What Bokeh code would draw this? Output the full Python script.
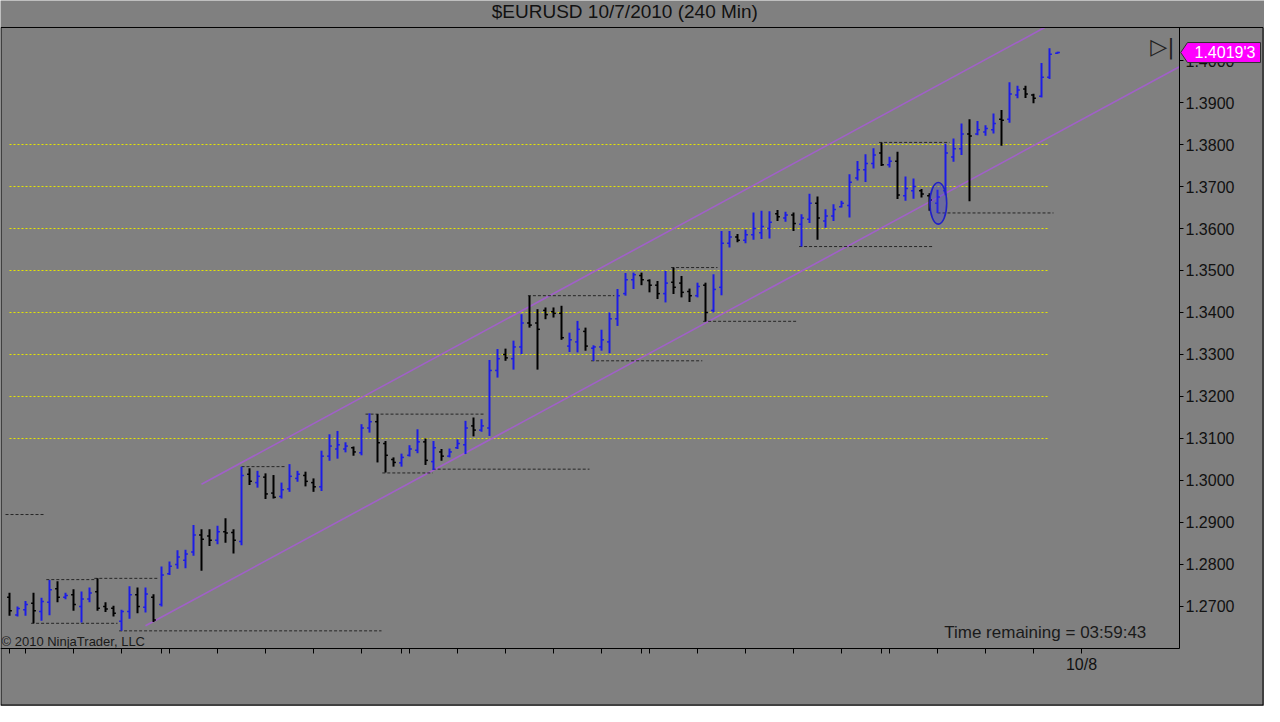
from bokeh.plotting import figure
from bokeh.models import (FixedTicker, PrintfTickFormatter, Label, Range1d, ColumnDataSource,
                          LinearAxis, BoxAnnotation)
from bokeh.core.properties import value
from bokeh.embed import file_html
from bokeh.resources import INLINE

# ---------------- data (240-minute bars) ----------------
highs = [1.2733, 1.2700, 1.2713, 1.2733, 1.2721, 1.2763, 1.2760, 1.2733, 1.2741, 1.2736,
         1.2745, 1.2767, 1.2710, 1.2702, 1.2692, 1.2748, 1.2745, 1.2745, 1.2729, 1.2795,
         1.2807, 1.2834, 1.2835, 1.2894, 1.2884, 1.2884, 1.2892, 1.2910, 1.2884, 1.3033,
         1.3029, 1.3023, 1.3017, 1.3013, 1.2995, 1.3039, 1.3023, 1.3021, 1.3005, 1.3071,
         1.3110, 1.3118, 1.3091, 1.3081, 1.3134, 1.3160, 1.3158, 1.3094, 1.3055, 1.3064,
         1.3084, 1.3122, 1.3100, 1.3094, 1.3075, 1.3076, 1.3098, 1.3142, 1.3150, 1.3146,
         1.3287, 1.3313, 1.3314, 1.3333, 1.3396, 1.3440, 1.3408, 1.3412, 1.3412, 1.3416,
         1.3352, 1.3380, 1.3364, 1.3322, 1.3359, 1.3400, 1.3456, 1.3494, 1.3495, 1.3495,
         1.3479, 1.3475, 1.3499, 1.3507, 1.3487, 1.3457, 1.3471, 1.3471, 1.3491, 1.3594,
         1.3594, 1.3587, 1.3597, 1.3638, 1.3642, 1.3641, 1.3644, 1.3640, 1.3638, 1.3634,
         1.3683, 1.3676, 1.3646, 1.3658, 1.3666, 1.3729, 1.3761, 1.3777, 1.3791, 1.3805,
         1.3771, 1.3783, 1.3724, 1.3719, 1.3694, 1.3684, 1.3692, 1.3802, 1.3814, 1.3850,
         1.3860, 1.3856, 1.3846, 1.3874, 1.3882, 1.3948, 1.3940, 1.3940, 1.3921, 1.3994,
         1.4029, 1.4021]
lows = [1.2678, 1.2676, 1.2678, 1.2660, 1.2666, 1.2679, 1.2710, 1.2717, 1.2690, 1.2662,
        1.2710, 1.2690, 1.2687, 1.2676, 1.2642, 1.2671, 1.2684, 1.2686, 1.2663, 1.2700,
        1.2775, 1.2790, 1.2791, 1.2821, 1.2785, 1.2844, 1.2848, 1.2852, 1.2826, 1.2846,
        1.2989, 1.2983, 1.2956, 1.2957, 1.2957, 1.2973, 1.2997, 1.2986, 1.2973, 1.2975,
        1.3047, 1.3052, 1.3067, 1.3059, 1.3060, 1.3114, 1.3043, 1.3019, 1.3033, 1.3033,
        1.3057, 1.3065, 1.3037, 1.3025, 1.3047, 1.3055, 1.3075, 1.3063, 1.3105, 1.3116,
        1.3106, 1.3245, 1.3285, 1.3264, 1.3301, 1.3364, 1.3264, 1.3384, 1.3388, 1.3335,
        1.3306, 1.3305, 1.3309, 1.3285, 1.3309, 1.3303, 1.3368, 1.3440, 1.3456, 1.3465,
        1.3448, 1.3432, 1.3424, 1.3444, 1.3436, 1.3425, 1.3436, 1.3379, 1.3400, 1.3441,
        1.3555, 1.3567, 1.3565, 1.3573, 1.3575, 1.3576, 1.3618, 1.3616, 1.3594, 1.3557,
        1.3613, 1.3573, 1.3602, 1.3618, 1.3650, 1.3626, 1.3714, 1.3711, 1.3743, 1.3749,
        1.3745, 1.3670, 1.3666, 1.3671, 1.3674, 1.3642, 1.3637, 1.3679, 1.3759, 1.3775,
        1.3665, 1.3822, 1.3821, 1.3826, 1.3797, 1.3852, 1.3910, 1.3911, 1.3898, 1.3912,
        1.3956, 1.4016]
opens = [1.2722, 1.2680, 1.2692, 1.2708, 1.2688, 1.2710, 1.2742, 1.2722, 1.2728, 1.2700,
         1.2718, 1.2735, 1.2700, 1.2696, 1.2665, 1.2688, 1.2728, 1.2698, 1.2722, 1.2705,
         1.2778, 1.2800, 1.2810, 1.2830, 1.2870, 1.2868, 1.2858, 1.2878, 1.2876, 1.2855,
         1.3015, 1.2995, 1.3008, 1.2970, 1.2962, 1.2980, 1.3005, 1.3012, 1.2995, 1.2985,
         1.3058, 1.3075, 1.3075, 1.3078, 1.3066, 1.3125, 1.3140, 1.3088, 1.3050, 1.3042,
         1.3060, 1.3072, 1.3092, 1.3045, 1.3068, 1.3058, 1.3078, 1.3085, 1.3130, 1.3120,
         1.3125, 1.3262, 1.3300, 1.3290, 1.3318, 1.3375, 1.3375, 1.3405, 1.3402, 1.3398,
         1.3320, 1.3330, 1.3355, 1.3315, 1.3318, 1.3330, 1.3385, 1.3445, 1.3478, 1.3488,
         1.3476, 1.3465, 1.3445, 1.3472, 1.3470, 1.3450, 1.3440, 1.3465, 1.3405, 1.3460,
         1.3565, 1.3580, 1.3572, 1.3585, 1.3590, 1.3600, 1.3635, 1.3625, 1.3632, 1.3610,
         1.3622, 1.3660, 1.3618, 1.3630, 1.3652, 1.3655, 1.3720, 1.3740, 1.3755, 1.3780,
         1.3752, 1.3760, 1.3678, 1.3690, 1.3690, 1.3678, 1.3660, 1.3690, 1.3770, 1.3790,
         1.3825, 1.3825, 1.3830, 1.3835, 1.3860, 1.3860, 1.3918, 1.3932, 1.3918, 1.3915,
         1.3960, 1.4017]
closes = [1.2690, 1.2695, 1.2705, 1.2690, 1.2712, 1.2740, 1.2722, 1.2726, 1.2705, 1.2718,
          1.2732, 1.2696, 1.2694, 1.2684, 1.2688, 1.2728, 1.2700, 1.2730, 1.2668, 1.2775,
          1.2796, 1.2818, 1.2825, 1.2870, 1.2860, 1.2858, 1.2878, 1.2875, 1.2858, 1.3012,
          1.2998, 1.3010, 1.2968, 1.2960, 1.2978, 1.3010, 1.3015, 1.2998, 1.2985, 1.3058,
          1.3082, 1.3085, 1.3082, 1.3068, 1.3125, 1.3140, 1.3090, 1.3060, 1.3043, 1.3055,
          1.3075, 1.3092, 1.3048, 1.3078, 1.3058, 1.3068, 1.3088, 1.3125, 1.3120, 1.3130,
          1.3262, 1.3290, 1.3292, 1.3318, 1.3375, 1.3370, 1.3360, 1.3395, 1.3398, 1.3340,
          1.3335, 1.3360, 1.3320, 1.3318, 1.3335, 1.3385, 1.3440, 1.3478, 1.3490, 1.3478,
          1.3465, 1.3445, 1.3470, 1.3460, 1.3448, 1.3440, 1.3462, 1.3400, 1.3455, 1.3565,
          1.3580, 1.3572, 1.3585, 1.3600, 1.3605, 1.3615, 1.3628, 1.3632, 1.3612, 1.3625,
          1.3660, 1.3625, 1.3630, 1.3645, 1.3660, 1.3710, 1.3740, 1.3755, 1.3775, 1.3752,
          1.3760, 1.3680, 1.3695, 1.3700, 1.3682, 1.3668, 1.3675, 1.3780, 1.3790, 1.3825,
          1.3820, 1.3835, 1.3838, 1.3850, 1.3858, 1.3920, 1.3930, 1.3920, 1.3910, 1.3960,
          1.4015, 1.4019]

# swing high/low dashed lines (price, first bar, last bar)
swing_price = [1.2919, 1.2764, 1.2767, 1.2660, 1.2642, 1.3033, 1.3158, 1.3018,
               1.3027, 1.3440, 1.3285, 1.3507, 1.3379, 1.3557, 1.3805, 1.3637]
swing_start = [-0.5, 4.6, 10.6, 2.7, 13.7, 29.0, 44.5, 46.6,
               52.9, 64.8, 72.7, 82.7, 86.7, 98.7, 108.7, 116.0]
swing_end = [4.5, 10.6, 18.5, 13.5, 46.5, 34.5, 59.5, 52.9,
             72.5, 75.6, 86.6, 88.5, 98.4, 115.5, 117.5, 130.5]

# horizontal price levels (yellow dotted)
levels = [1.31, 1.32, 1.33, 1.34, 1.35, 1.36, 1.37, 1.38]
level_first_bar = 0
level_last_bar = 130

# trend channel anchors (bar index, price)
channel_lower = [(17.0, 1.2654), (146.25, 1.3985)]
channel_upper = [(24.0, 1.2991), (129.4, 1.40786)]

# highlighted bar (ellipse): bar index, price, width in bars, height in price
marker_bar = 116.1
marker_price = 1.3660
marker_w = 2.1
marker_h = 0.0099

# axes
y_ticks = [1.27, 1.28, 1.29, 1.30, 1.31, 1.32, 1.33, 1.34, 1.35, 1.36, 1.37, 1.38, 1.39, 1.40]
x_tick_bars = [0, 2, 8, 14, 19, 20, 26, 32, 38, 44, 49, 50, 56, 62, 68, 74, 79, 80, 86, 92,
               98, 104, 109, 110, 116, 122, 128, 134]
x_tick_labels = {134: "10/8"}

title_text = "$EURUSD  10/7/2010 (240 Min)"
last_price_text = "1.4019'3"
timer_text = "Time remaining = 03:59:43"
copyright_text = "\u00a9 2010 NinjaTrader, LLC"

# ---------------- layout constants (bar index / price space) ----------------
FONT = "Liberation Sans"
BG = "#808080"
UP = "#1c1ce6"
DOWN = "#000000"

X_MIN, X_MAX = -1.125, 156.875          # whole canvas
Y_MIN, Y_MAX = 1.24619, 1.414286
BOX_LEFT, BOX_RIGHT = -1.125, 146.25    # price panel
BOX_BOTTOM, BOX_TOP = 1.26, 1.40786
PX_X = 1 / 8.0                          # one pixel in bar units
PX_Y = 1 / 4200.0                       # one pixel in price units

n = len(closes)
idx = list(range(n))
colors = [UP if c >= o else DOWN for o, c in zip(opens, closes)]
tick_w = 0.3
src = ColumnDataSource(dict(
    x=idx, hi=highs, lo=lows, op=opens, cl=closes, color=colors,
    xl=[i - tick_w for i in idx], xr=[i + tick_w for i in idx]))

p = figure(width=1264, height=706, output_backend="svg", toolbar_location=None,
           x_range=Range1d(X_MIN, X_MAX), y_range=Range1d(Y_MIN, Y_MAX),
           x_axis_location=None, y_axis_location=None,
           min_border_left=0, min_border_right=0, min_border_top=0, min_border_bottom=0)
p.background_fill_color = BG
p.border_fill_color = BG
p.outline_line_color = None
p.xgrid.visible = False
p.ygrid.visible = False

# yellow levels
p.segment(x0=[level_first_bar] * len(levels), y0=levels,
          x1=[level_last_bar] * len(levels), y1=levels,
          line_color="#e6e600", line_width=1, line_dash="2 2")

# channel
for pts in (channel_lower, channel_upper):
    p.line(x=[pts[0][0], pts[1][0]], y=[pts[0][1], pts[1][1]],
           line_color="#a060c8", line_width=1.6)

# swing lines
p.segment(x0=swing_start, y0=swing_price, x1=swing_end, y1=swing_price,
          line_color="#262626", line_width=1, line_dash="3 2")

# OHLC bars
p.segment(x0="x", y0="lo", x1="x", y1="hi", line_color="color", line_width=2, source=src)
p.segment(x0="xl", y0="op", x1="x", y1="op", line_color="color", line_width=1.5, source=src)
p.segment(x0="x", y0="cl", x1="xr", y1="cl", line_color="color", line_width=1.5, source=src)

# highlight ellipse
p.ellipse(x=[marker_bar], y=[marker_price], width=[marker_w], height=[marker_h],
          fill_color="#3a3ad8", fill_alpha=0.3, line_color="#2020c8", line_width=1.6)

# outer frame (title separator, left, right and bottom edges of the window)
p.add_layout(BoxAnnotation(left=X_MIN + 0.5 * PX_X, right=X_MAX - 1.5 * PX_X,
                           bottom=Y_MIN + 1.5 * PX_Y, top=BOX_TOP,
                           fill_alpha=0, line_color="black", line_alpha=1, line_width=1))

# price axis on the right edge of the price panel
ya = LinearAxis(fixed_location=BOX_RIGHT, bounds=(BOX_BOTTOM, BOX_TOP))
ya.ticker = FixedTicker(ticks=y_ticks)
ya.formatter = PrintfTickFormatter(format="%.4f")
ya.major_tick_out = 4
ya.major_tick_in = 0
ya.minor_tick_out = 0
ya.minor_tick_in = 0
ya.major_label_standoff = 2
ya.major_label_text_font = FONT
ya.major_label_text_font_size = "16px"
ya.major_label_text_color = "#111111"
ya.axis_line_color = "black"
ya.major_tick_line_color = "black"
p.add_layout(ya, "right")

# time axis on the bottom edge of the price panel
xa = LinearAxis(fixed_location=BOX_BOTTOM, bounds=(BOX_LEFT, BOX_RIGHT))
xa.ticker = FixedTicker(ticks=x_tick_bars)
xa.major_label_overrides = {t: x_tick_labels.get(t, "") for t in x_tick_bars}
xa.major_tick_out = 5
xa.major_tick_in = 0
xa.minor_tick_out = 0
xa.minor_tick_in = 0
xa.major_label_standoff = 3
xa.major_label_text_font = FONT
xa.major_label_text_font_size = "16px"
xa.major_label_text_color = "#111111"
xa.axis_line_color = "black"
xa.major_tick_line_color = "black"
p.add_layout(xa, "below")

# last-price marker (drawn above the price axis labels)
last = closes[-1]
tip_x = BOX_RIGHT + 1.2 * PX_X
body_l = BOX_RIGHT + 8 * PX_X
body_r = BOX_RIGHT + 81 * PX_X
half_h = 10 * PX_Y
flag = p.patch(x=[tip_x, body_l, body_r, body_r, body_l],
               y=[last, last + half_h, last + half_h, last - half_h, last - half_h],
               fill_color="#ff00ff", line_color="#303030", line_width=1)
flag.level = "overlay"
flag_txt = p.text(x=[body_l + 7 * PX_X], y=[last], text=[last_price_text],
                  text_font=value(FONT), text_font_size="16px", text_color="white",
                  text_align="left", text_baseline="middle")
flag_txt.level = "overlay"

# texts
p.add_layout(Label(x=77.25, y=1.411667, text=title_text, text_align="center",
                   text_baseline="middle", text_font=FONT, text_font_size="19px",
                   text_color="#111111"))
p.add_layout(Label(x=-1.0, y=1.261667, text=copyright_text, text_align="left",
                   text_baseline="middle", text_font=FONT, text_font_size="13px",
                   text_color="#1a1a1a"))
p.add_layout(Label(x=142.1, y=1.263714, text=timer_text, text_align="right",
                   text_baseline="middle", text_font=FONT, text_font_size="17px",
                   text_color="#1a1a1a"))
p.add_layout(Label(x=142.6, y=1.40333, text="\u25b7|", text_align="left",
                   text_baseline="middle", text_font="DejaVu Sans", text_font_size="22px",
                   text_color="#222222"))

open("out.html", "w").write(file_html(p, INLINE))
